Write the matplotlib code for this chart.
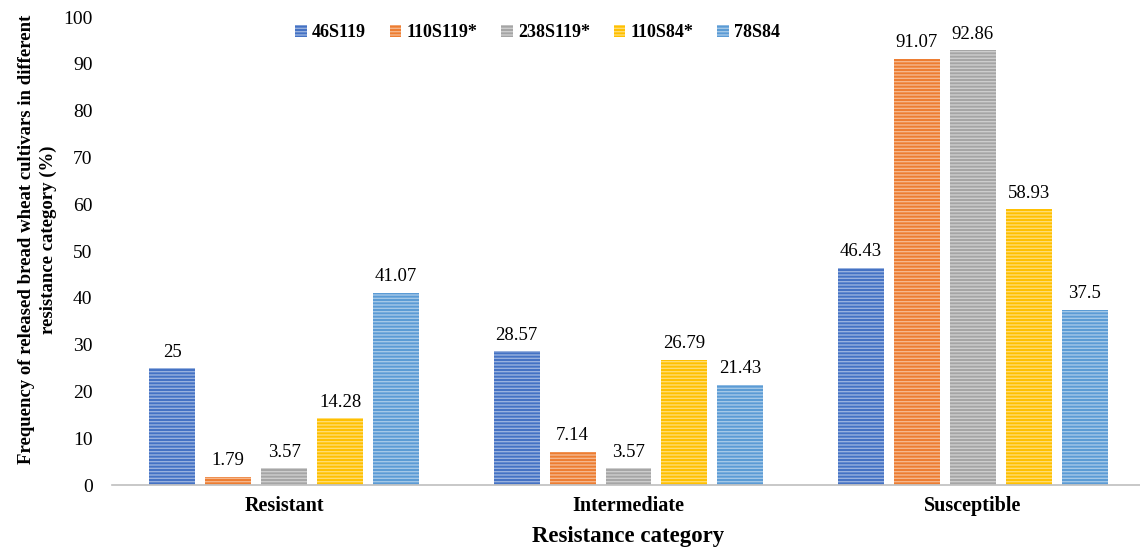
import matplotlib
matplotlib.use("Agg")
import matplotlib.pyplot as plt
import numpy as np

categories = ["Resistant", "Intermediate", "Susceptible"]
series_names = ["46S119", "110S119*", "238S119*", "110S84*", "78S84"]
values = {
    "46S119": [25, 28.57, 46.43],
    "110S119*": [1.79, 7.14, 91.07],
    "238S119*": [3.57, 3.57, 92.86],
    "110S84*": [14.28, 26.79, 58.93],
    "78S84": [41.07, 21.43, 37.5],
}
colors = ["#4472C4", "#ED7D31", "#A5A5A5", "#FFC000", "#5B9BD5"]
yticks = [0, 10, 20, 30, 40, 50, 60, 70, 80, 90, 100]

plt.rcParams["font.family"] = ["Liberation Serif", "DejaVu Serif"]
plt.rcParams["hatch.linewidth"] = 1.0

fig = plt.figure(figsize=(11.4, 5.49), dpi=100)
ax = fig.add_axes([112/1140, 1-485/549, 1033/1140, 468/549])

x = np.arange(len(categories))
pitch = 0.1625
width = 0.1335
for i, name in enumerate(series_names):
    offs = (i - 2) * pitch
    vals = values[name]
    ax.bar(x + offs, vals, width, color=colors[i], edgecolor=(1, 1, 1, 0.45),
           linewidth=0, hatch="-----", label=name)
    for xi, v in zip(x + offs, vals):
        ax.text(xi, v + 1.6, f"{v:g}", ha="center", va="bottom", fontsize=13.5)

ax.set_xlim(-0.5, 2.5)
ax.set_ylim(0, 100)
ax.set_yticks(yticks)
ax.set_xticks(x)
ax.set_xticklabels(categories, fontsize=14.5, fontweight="bold")
ax.tick_params(axis="y", labelsize=14, length=0, pad=14)
ax.tick_params(axis="x", length=0, pad=8)
for s in ["top", "right", "left"]:
    ax.spines[s].set_visible(False)
ax.spines["bottom"].set_color("#BFBFBF")
ax.spines["bottom"].set_linewidth(1.2)

ax.set_xlabel("Resistance category", fontsize=16.5, fontweight="bold", labelpad=7)
ax.set_ylabel("Frequency of released bread wheat cultivars in different\nresistance category (%)",
              fontsize=13.5, fontweight="bold", linespacing=1.4)
ax.yaxis.set_label_coords(-0.053, 0.525)

ax.legend(loc="upper center", bbox_to_anchor=(0.412, 1.02), ncol=5, frameon=False,
          prop={"weight": "bold", "size": 13}, handlelength=0.65, handleheight=0.65,
          handletextpad=0.3, columnspacing=1.3)

fig.savefig("out.png", dpi=100)
